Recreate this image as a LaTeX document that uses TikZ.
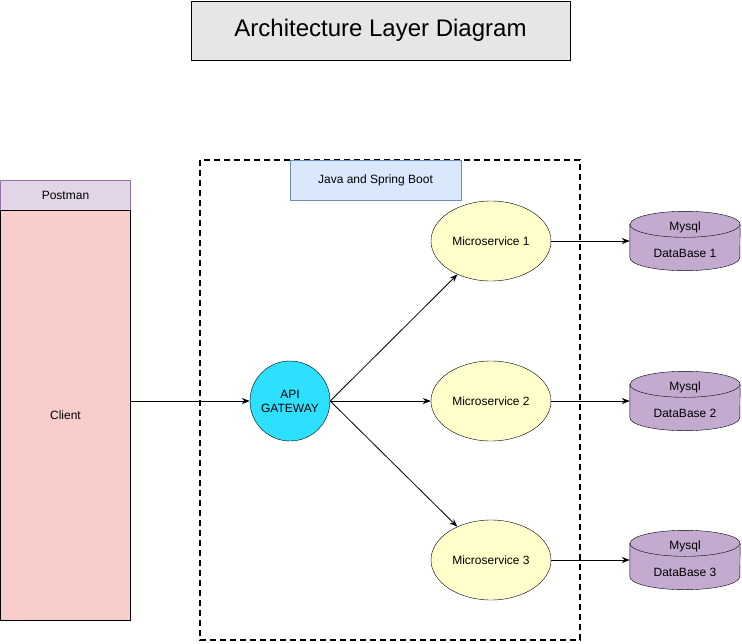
\documentclass[tikz,border=0pt]{standalone}
\usepackage{fontspec}
\setmainfont{Liberation Sans}
\usetikzlibrary{arrows.meta,shapes.geometric}
\definecolor{titlegray}{HTML}{E6E6E6}
\definecolor{postfill}{HTML}{E1D5E7}
\definecolor{poststroke}{HTML}{9673A6}
\definecolor{clientfill}{HTML}{F8CECC}
\definecolor{javafill}{HTML}{DAE8FC}
\definecolor{javastroke}{HTML}{6C8EBF}
\definecolor{gwfill}{HTML}{2EE0FF}
\definecolor{msfill}{HTML}{FFFFCC}
\definecolor{dbfill}{HTML}{C3ABD0}
\tikzset{
  txt/.style={font=\fontsize{12}{14}\selectfont},
  box/.style={draw, txt, inner sep=0pt},
  msnode/.style={ellipse, draw, fill=msfill, txt, minimum width=120pt, minimum height=80pt, inner sep=0pt},
  dbnode/.style={txt, minimum width=110pt, minimum height=59pt, inner sep=0pt, align=center},
  arr/.style={-{Stealth[length=8pt,width=6pt]}, line width=0.8pt}
}
\newcommand{\dbshape}[1]{%
  \draw[fill=dbfill] ([yshift=-13pt]#1.north west) -- ([yshift=13pt]#1.south west)
    arc (180:360:55pt and 13pt) -- ([yshift=-13pt]#1.north east)
    arc (0:180:55pt and 13pt) -- cycle;
  \draw ([yshift=-13pt]#1.north west) arc (180:360:55pt and 13pt);}
\begin{document}
\begin{tikzpicture}[x=1pt,y=-1pt]
\useasboundingbox (0,0) rectangle (742,643);

% title
\node[draw, fill=titlegray, minimum width=379pt, minimum height=59pt, font=\fontsize{24}{28}\selectfont] (title) at (380.5,30.5) {Architecture Layer Diagram};

% client side
\node[box, fill=postfill, draw=poststroke, minimum width=130pt, minimum height=30pt] (postman) at (65.5,195) {Postman};
\node[box, fill=clientfill, minimum width=130pt, minimum height=410pt] (client) at (65.5,415) {Client};

% spring boot zone
\draw[line width=1.3pt, dash pattern=on 6pt off 4pt] (200,160) rectangle (580,640);
\node[box, fill=javafill, draw=javastroke, minimum width=171pt, minimum height=40pt] (java) at (375.5,180) {Java and Spring Boot};

\node[circle, draw, fill=gwfill, txt, minimum size=80pt, inner sep=0pt, align=center] (gw) at (290,401) {API\\GATEWAY};
\node[msnode] (ms1) at (491,241) {Microservice 1};
\node[msnode] (ms2) at (491,401) {Microservice 2};
\node[msnode] (ms3) at (491,560) {Microservice 3};

% databases
\node[dbnode] (db1) at (685,241) {};
\node[dbnode] (db2) at (685,401) {};
\node[dbnode] (db3) at (685,560) {};
\dbshape{db1} \dbshape{db2} \dbshape{db3}
\foreach \d/\n in {db1/1,db2/2,db3/3}
  \node[txt, align=center] at ([yshift=1.5pt]\d) {Mysql\\[13pt]DataBase \n};

% arrows
\draw[arr] (client.east |- gw) -- (gw);
\draw[arr] (gw.east) -- (ms1);
\draw[arr] (gw.east) -- (ms2);
\draw[arr] (gw.east) -- (ms3);
\draw[arr] (ms1) -- (db1);
\draw[arr] (ms2) -- (db2);
\draw[arr] (ms3) -- (db3);
\end{tikzpicture}
\end{document}
